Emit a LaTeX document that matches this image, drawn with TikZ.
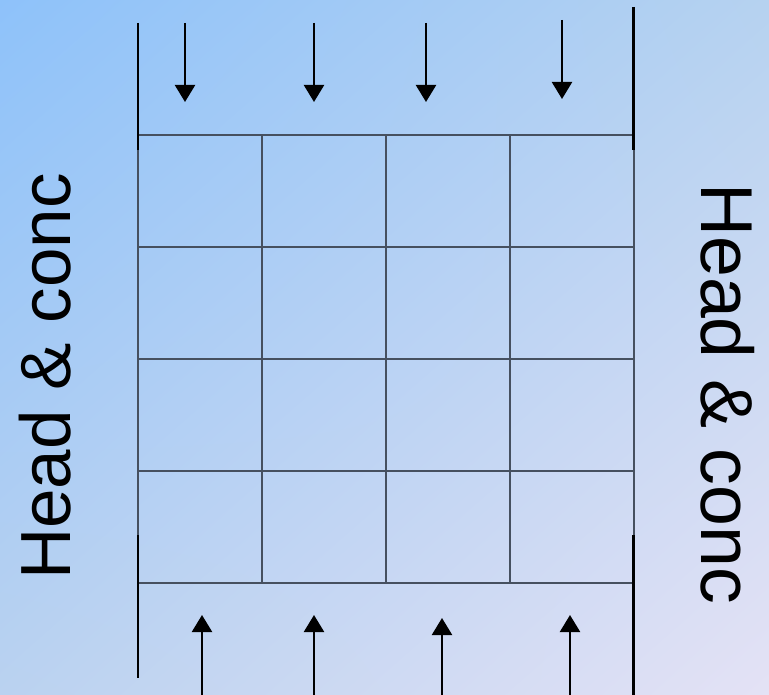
\documentclass[tikz,border=0pt]{standalone}
\usepackage{fontspec}
\setmainfont{Liberation Sans}
\usetikzlibrary{arrows.meta,shadings}
\definecolor{bgTL}{RGB}{142,194,250}
\definecolor{bgTR}{RGB}{182,210,240}
\definecolor{bgBL}{RGB}{186,210,240}
\definecolor{bgBR}{RGB}{228,226,245}
\definecolor{gridc}{RGB}{70,80,95}
\tikzset{
  gridline/.style={draw=gridc, line width=1.3pt},
  wall/.style={draw=black, line width=2.5pt},
  flow/.style={draw=black, line width=2.3pt, -{Triangle[width=20pt,length=17pt]}},
  label/.style={inner sep=0pt, anchor=base, text=black}
}
\begin{document}
\begin{tikzpicture}[x=1pt,y=-1pt]
\useasboundingbox (0,0) rectangle (769,695);
\shade[upper left=bgTL, upper right=bgTR, lower left=bgBL, lower right=bgBR] (0,0) rectangle (769,695);
% grid
\foreach \x in {138,262,386,510,634} \draw[gridline] (\x,135) -- (\x,583);
\foreach \y in {135,247,359,471,583} \draw[gridline] (138,\y) -- (634,\y);
% walls
\coordinate (lt1) at (138,23); \coordinate (lt2) at (138,150);
\coordinate (lb1) at (138,535); \coordinate (lb2) at (138,678);
\coordinate (rt1) at (633.5,7); \coordinate (rt2) at (633.5,150);
\coordinate (rb1) at (633.5,535); \coordinate (rb2) at (633.5,695);
\draw[wall] (lt1) -- (lt2);
\draw[wall] (lb1) -- (lb2);
\draw[wall] (rt1) -- (rt2);
\draw[wall] (rb1) -- (rb2);
% top arrows
\coordinate (ta1s) at (185,23); \coordinate (ta1e) at (185,102);
\coordinate (ta2s) at (314,23); \coordinate (ta2e) at (314,102);
\coordinate (ta3s) at (426,23); \coordinate (ta3e) at (426,102);
\coordinate (ta4s) at (562,20); \coordinate (ta4e) at (562,99);
\draw[flow] (ta1s) -- (ta1e);
\draw[flow] (ta2s) -- (ta2e);
\draw[flow] (ta3s) -- (ta3e);
\draw[flow] (ta4s) -- (ta4e);
% bottom arrows
\coordinate (ba1s) at (202,695); \coordinate (ba1e) at (202,615);
\coordinate (ba2s) at (314,695); \coordinate (ba2e) at (314,615);
\coordinate (ba3s) at (442,695); \coordinate (ba3e) at (442,618);
\coordinate (ba4s) at (570,695); \coordinate (ba4e) at (570,615);
\draw[flow] (ba1s) -- (ba1e);
\draw[flow] (ba2s) -- (ba2e);
\draw[flow] (ba3s) -- (ba3e);
\draw[flow] (ba4s) -- (ba4e);
% labels
\node[label, rotate=90, font=\fontsize{71}{71}\selectfont] (leftlab) at (70,376.5) {Head \& conc};
\node[label, rotate=-90, font=\fontsize{73.5}{73.5}\selectfont] (rightlab) at (701,393.5) {Head \& conc};
\end{tikzpicture}
\end{document}
